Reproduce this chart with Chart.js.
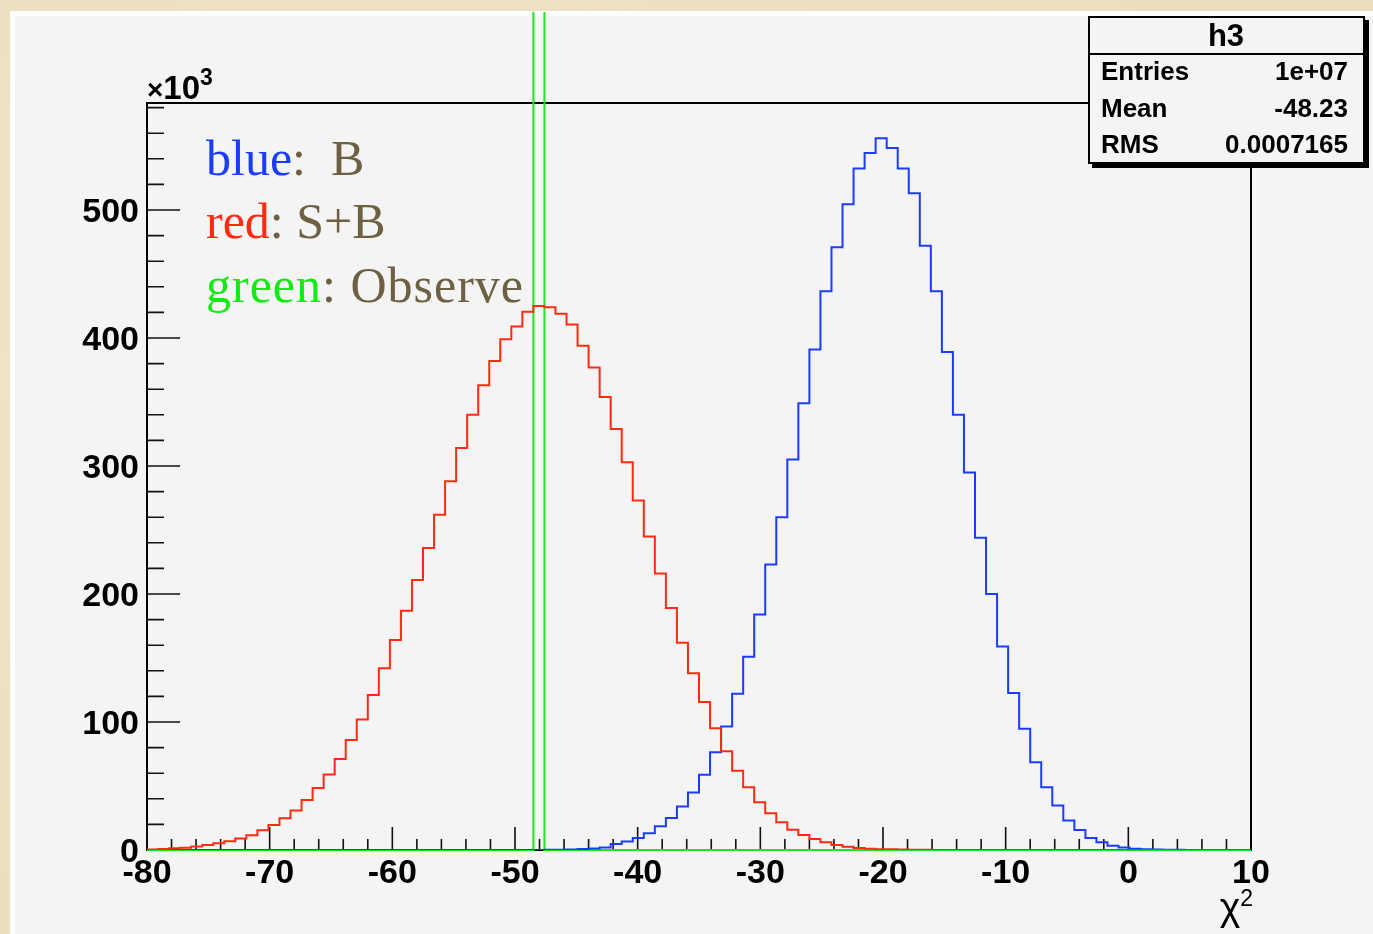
<!DOCTYPE html>
<html>
<head>
<meta charset="utf-8">
<script src="https://cdn.jsdelivr.net/npm/chart.js@4.4.1/dist/chart.umd.min.js"></script>
<style>
  html, body { margin:0; padding:0; }
  body { width:1373px; height:934px; position:relative; overflow:hidden;
         background: radial-gradient(ellipse at 30% 40%, #f0e6cb 0%, #ece0c0 60%, #e9dcbb 100%); }
  #pad { position:absolute; left:10px; top:11px; right:0; bottom:0;
         background:#f4f4f4; border-left:5px solid #ffffff; border-top:5px solid #ffffff; }
  #c { position:absolute; left:0; top:0; }
  #stats { position:absolute; left:1088px; top:16px; width:273px; height:144px;
           border:2px solid #000; background:#f4f4f4; box-shadow:4px 4px 0 #000; }
  #statsTitle { position:absolute; left:0; top:0; width:273px; height:35px; border-bottom:2px solid #000; }
  .t { position:absolute; white-space:pre; }
</style>
</head>
<body>
<div id="pad"></div>
<canvas id="c" width="1373" height="934"></canvas>
<div id="stats"><div id="statsTitle"></div></div>
<script>
// ---------------- data ----------------
const nBins = 100;
const xMin = -80;
const xMax = 10;
const yMax = 583.6;              // in units of 10^3
const xMajorTicks = [-80, -70, -60, -50, -40, -30, -20, -10, 0, 10];
const yMajorTicks = [0, 100, 200, 300, 400, 500];

// red : S+B  (bin contents, x10^3)
const redValues = [
  0.3, 0.8, 1.3, 1.8, 2.8, 3.9, 5.2, 6.8, 9.0, 11.5,
  15.4, 19.5, 24.8, 30.8, 39, 48.5, 59, 71, 86, 102,
  121, 142, 164, 187, 211, 236, 262, 288, 314, 340,
  363, 382, 399, 409, 420.5, 425, 424, 419, 410.6, 394,
  377, 354, 329, 303, 273, 245, 216, 189, 162, 138,
  115.6, 95.2, 77.2, 62, 49, 37.3, 28.7, 21.6, 15.9, 11.7,
  8.6, 6, 3.9, 2.6, 1.6, 1.0, 0.6, 0.5, 0.3, 0.2,
  0.1, 0, 0, 0, 0, 0, 0, 0, 0, 0,
  0, 0, 0, 0, 0, 0, 0, 0, 0, 0,
  0, 0, 0, 0, 0, 0, 0, 0, 0, 0
];
// blue : B
const blueValues = [
  0, 0, 0, 0, 0, 0, 0, 0, 0, 0,
  0, 0, 0, 0, 0, 0, 0, 0, 0, 0,
  0, 0, 0, 0, 0, 0, 0, 0, 0, 0,
  0, 0, 0, 0, 0, 0, 0.1, 0.2, 0.4, 0.7,
  1.2, 2, 4.7, 6.7, 9.4, 13, 18.5, 25, 34, 45,
  58.7, 76.4, 96.5, 122, 151, 184, 223, 260, 305, 349,
  391, 436.6, 471, 504.5, 532.5, 544.5, 556, 548.4, 532.5, 513,
  472, 436.6, 389, 340, 295, 244, 200, 159, 122.6, 94.7,
  68.6, 49, 34.7, 23, 15.7, 9.4, 6, 3.4, 2, 1,
  0.5, 0.3, 0.2, 0.1, 0, 0, 0, 0, 0, 0
];
// green : Observe  (all 1e7 entries in one bin)
const greenValues = [
  0, 0, 0, 0, 0, 0, 0, 0, 0, 0,
  0, 0, 0, 0, 0, 0, 0, 0, 0, 0,
  0, 0, 0, 0, 0, 0, 0, 0, 0, 0,
  0, 0, 0, 0, 0, 10000, 0, 0, 0, 0,
  0, 0, 0, 0, 0, 0, 0, 0, 0, 0,
  0, 0, 0, 0, 0, 0, 0, 0, 0, 0,
  0, 0, 0, 0, 0, 0, 0, 0, 0, 0,
  0, 0, 0, 0, 0, 0, 0, 0, 0, 0,
  0, 0, 0, 0, 0, 0, 0, 0, 0, 0,
  0, 0, 0, 0, 0, 0, 0, 0, 0, 0
];
const statsTitle = 'h3';
const statsRows = [['Entries', '1e+07'], ['Mean', '-48.23'], ['RMS', '0.0007165']];

// --------------- helpers ---------------
const binEdges = Array.from({length: nBins + 1}, (_, i) => xMin + i * (xMax - xMin) / nBins);
function histPoints(vals) {
  const pts = [{x: binEdges[0], y: 0}];
  vals.forEach((v, i) => pts.push({x: binEdges[i], y: v}));
  pts.push({x: binEdges[nBins], y: vals[nBins - 1]});
  pts.push({x: binEdges[nBins], y: 0});
  return pts;
}
const xMinorTicks = [];
for (let i = 0; i < xMajorTicks.length - 1; i++) {
  const a = xMajorTicks[i], b = xMajorTicks[i + 1];
  for (let k = 1; k < 5; k++) xMinorTicks.push(a + (b - a) * k / 5);
}
const yMinorTicks = [];
for (let i = 0; i < yMajorTicks.length; i++) {
  const a = yMajorTicks[i];
  for (let k = 1; k < 5; k++) { const v = a + 20 * k; if (v <= yMax) yMinorTicks.push(v); }
}

const rootAxes = {
  id: 'rootAxes',
  beforeDatasetsDraw(chart) {
    const {ctx, chartArea: a, scales: {x, y}} = chart;
    ctx.save();
    ctx.strokeStyle = '#111';
    ctx.lineWidth = 1.6;
    ctx.beginPath();
    xMajorTicks.forEach(v => { const p = x.getPixelForValue(v); ctx.moveTo(p, a.bottom); ctx.lineTo(p, a.bottom - 23); });
    xMinorTicks.forEach(v => { const p = x.getPixelForValue(v); ctx.moveTo(p, a.bottom); ctx.lineTo(p, a.bottom - 11); });
    yMajorTicks.forEach(v => { const p = y.getPixelForValue(v); ctx.moveTo(a.left, p); ctx.lineTo(a.left + 33, p); });
    yMinorTicks.forEach(v => { const p = y.getPixelForValue(v); ctx.moveTo(a.left, p); ctx.lineTo(a.left + 17, p); });
    ctx.stroke();
    ctx.lineWidth = 2;
    ctx.strokeStyle = '#000';
    ctx.beginPath();
    ctx.moveTo(a.left, a.top); ctx.lineTo(a.right, a.top); ctx.lineTo(a.right, a.bottom);
    ctx.stroke();
    ctx.restore();
  }
};

const tickFont = {family: 'Liberation Sans', size: 34, weight: 'bold'};

new Chart(document.getElementById('c'), {
  type: 'line',
  data: {
    datasets: [
      {label: 'red', data: histPoints(redValues), borderColor: '#ff2a12', borderWidth: 2, stepped: 'before', pointRadius: 0, fill: false},
      {label: 'blue', data: histPoints(blueValues), borderColor: '#1b3cff', borderWidth: 2, stepped: 'before', pointRadius: 0, fill: false},
      {label: 'green', data: histPoints(greenValues), borderColor: '#1ee61e', borderWidth: 2, stepped: 'before', pointRadius: 0, fill: false,
       clip: {left: 4, top: 91, right: 4, bottom: 4}}
    ]
  },
  options: {
    responsive: false,
    devicePixelRatio: 1,
    animation: false,
    events: [],
    layout: {padding: {left: 0, right: 122, top: 103, bottom: 0}},
    plugins: {legend: {display: false}, tooltip: {enabled: false}},
    elements: {line: {tension: 0}},
    scales: {
      x: {
        type: 'linear', min: xMin, max: xMax,
        grid: {display: false, drawTicks: false},
        border: {display: true, color: '#000', width: 2},
        ticks: {stepSize: 10, font: tickFont, color: '#000', padding: 3, maxRotation: 0, autoSkip: false,
                callback: v => String(v)},
        afterBuildTicks: s => { s.ticks = xMajorTicks.map(v => ({value: v})); },
        afterFit: s => { s.height = 84; }
      },
      y: {
        type: 'linear', min: 0, max: yMax,
        grid: {display: false, drawTicks: false},
        border: {display: true, color: '#000', width: 2},
        ticks: {stepSize: 100, font: tickFont, color: '#000', padding: 8, labelOffset: 3, callback: v => String(v)},
        afterBuildTicks: s => { s.ticks = yMajorTicks.map(v => ({value: v})); },
        afterFit: s => { s.width = 147; }
      }
    }
  },
  plugins: [rootAxes]
});

// --------------- text overlays ---------------
function place(html, style, x, baseline, align) {
  const el = document.createElement('div');
  el.className = 't';
  el.innerHTML = html;
  Object.assign(el.style, style);
  el.style.left = '0px'; el.style.top = '0px';
  document.body.appendChild(el);
  const m = document.createElement('span');
  m.style.display = 'inline-block'; m.style.width = '0px'; m.style.height = '0px';
  el.appendChild(m);
  const r = el.getBoundingClientRect();
  const mb = m.getBoundingClientRect().bottom;
  el.style.top = (baseline - mb) + 'px';
  const w = r.width;
  el.style.left = (align === 'right' ? x - w : align === 'center' ? x - w / 2 : x) + 'px';
  return el;
}
const brown = '#6e6042';
const serif = {fontFamily: '"Liberation Serif", serif', fontSize: '50px', color: brown};
place('<span style="color:#1b3cff">blue</span>:  B', serif, 206, 175, 'left');
place('<span style="color:#ff2a12">red</span>: S+B', serif, 206, 238, 'left');
place('<span style="color:#14ea14">green</span>: Observe', Object.assign({}, serif, {letterSpacing: '1px'}), 206, 302, 'left');

const boldSans = {fontFamily: '"Liberation Sans", sans-serif', fontWeight: 'bold', fontSize: '33px', color: '#000'};
place('<span style="font-size:28px">×</span>10<span style="font-size:23px;position:relative;top:-14px">3</span>', boldSans, 147, 99, 'left');
place('χ<span style="font-size:23px;position:relative;top:-14px">2</span>',
      {fontFamily: '"Liberation Sans", sans-serif', fontSize: '39px', color: '#000'}, 1253, 920, 'right');

const statFont = {fontFamily: '"Liberation Sans", sans-serif', fontWeight: 'bold', fontSize: '26px', color: '#000', zIndex: 5};
place(statsTitle, Object.assign({}, statFont, {fontSize: '31px'}), 1226, 46, 'center');
statsRows.forEach((row, i) => {
  const b = 80 + i * 36.7;
  place(row[0], statFont, 1101, b, 'left');
  place(row[1], statFont, 1348, b, 'right');
});
</script>
</body>
</html>
